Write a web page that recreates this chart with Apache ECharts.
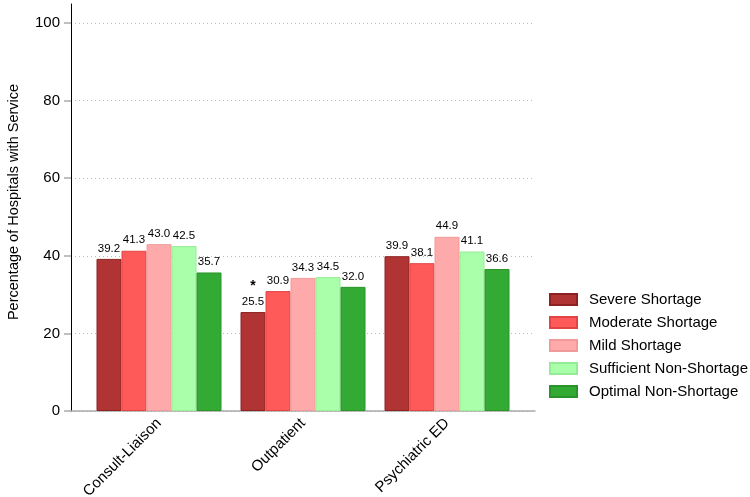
<!DOCTYPE html>
<html><head><meta charset="utf-8">
<script src="https://cdn.jsdelivr.net/npm/echarts@6/dist/echarts.min.js"></script>
<style>html,body{margin:0;padding:0;background:#fff}#c{width:750px;height:497px}</style>
</head><body><div id="c"></div>
<script>
const categories = ['Consult-Liaison', 'Outpatient', 'Psychiatric ED'];
const seriesNames = ['Severe Shortage', 'Moderate Shortage', 'Mild Shortage', 'Sufficient Non-Shortage', 'Optimal Non-Shortage'];
const severe = [39.2, 25.5, 39.9];
const moderate = [41.3, 30.9, 38.1];
const mild = [43.0, 34.3, 44.9];
const sufficient = [42.5, 34.5, 41.1];
const optimal = [35.7, 32.0, 36.6];
const severeMarks = ['', '*', ''];
const yTicks = [0, 20, 40, 60, 80, 100];
const yTitle = 'Percentage of Hospitals with Service';

const values = [severe, moderate, mild, sufficient, optimal];
const marks = [severeMarks, null, null, null, null];
const colors = ['#b03434', '#ff5a5a', '#ffaaaa', '#aaffaa', '#33aa33'];
const borders = ['#8e2222', '#e04444', '#f09a9a', '#96ec96', '#2a942a'];
const FONT = 'Liberation Sans, Arial, Helvetica, sans-serif';

const chart = echarts.init(document.getElementById('c'), null, {renderer: 'canvas'});
chart.setOption({
  animation: false,
  backgroundColor: '#fff',
  textStyle: {fontFamily: FONT},
  grid: [
    {left: 71, right: 215, top: 4, bottom: 86, outerBoundsMode: 'none', containLabel: false},
    {left: 71, right: 215, top: 23, bottom: 86, outerBoundsMode: 'none', containLabel: false},
    {left: 87, width: 432, top: 23, bottom: 86, outerBoundsMode: 'none', containLabel: false}
  ],
  xAxis: [
    {gridIndex: 0, type: 'category', data: categories,
     axisLine: {show: true, lineStyle: {color: '#aaaaaa', width: 1.5}},
     axisTick: {show: false}, axisLabel: {show: false}, splitLine: {show: false}},
    {gridIndex: 1, type: 'category', data: categories, show: false},
    {gridIndex: 2, type: 'category', data: categories,
     axisLine: {show: false}, axisTick: {show: false},
     axisLabel: {rotate: 45, fontSize: 15, color: '#000', margin: 10, fontFamily: FONT}}
  ],
  yAxis: [
    {gridIndex: 0, type: 'value', min: 0, max: 104.8,
     axisLine: {show: true, lineStyle: {color: '#000', width: 1}},
     axisTick: {show: false}, axisLabel: {show: false}, splitLine: {show: false}},
    {gridIndex: 1, type: 'value', min: yTicks[0], max: yTicks[yTicks.length - 1], interval: 20,
     name: yTitle, nameLocation: 'middle', nameGap: 50,
     nameTextStyle: {fontSize: 14.5, color: '#000', fontFamily: FONT, padding: [0, 0, 0, 30]},
     axisLine: {show: false},
     axisTick: {show: true, length: 7, lineStyle: {color: '#aaaaaa', width: 1.5}},
     axisLabel: {fontSize: 15, color: '#000', margin: 11, fontFamily: FONT},
     splitLine: {show: true, lineStyle: {color: '#bbbbbb', type: [1, 3], width: 1}}},
    {gridIndex: 2, type: 'value', min: 0, max: 100, show: false}
  ],
  legend: {
    orient: 'vertical', left: 549, top: 292, padding: 0,
    icon: 'rect', itemWidth: 27, itemHeight: 11, itemGap: 8,
    textStyle: {fontSize: 15, color: '#000', fontFamily: FONT, padding: [0, 0, 0, 7]},
    data: seriesNames
  },
  series: seriesNames.map((name, i) => ({
    name: name, type: 'bar', xAxisIndex: 2, yAxisIndex: 2,
    barWidth: 25, barGap: '0%',
    data: values[i],
    itemStyle: {color: colors[i], borderColor: borders[i], borderWidth: 1},
    label: {
      show: true, position: 'top', distance: 3, fontSize: 11.5, color: '#000', fontFamily: FONT,
      align: 'center', lineHeight: 15,
      rich: {ast: {fontSize: 14, fontWeight: 'bold', lineHeight: 15, color: '#000'}},
      formatter: p => {
        const m = marks[i] ? marks[i][p.dataIndex] : '';
        const v = p.value.toFixed(1);
        return m ? '{ast|' + m + '}\n' + v : v;
      }
    }
  }))
});
</script></body></html>
